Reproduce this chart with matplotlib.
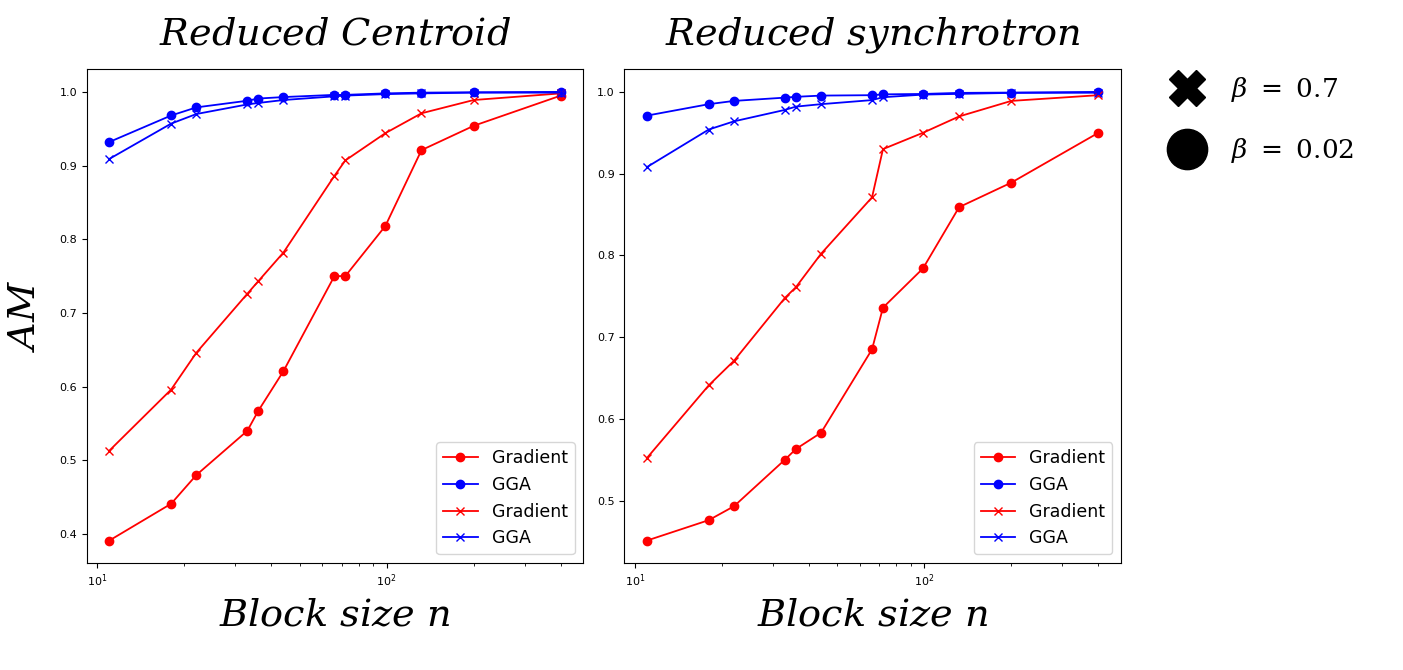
import numpy as np
import matplotlib
matplotlib.use('Agg')
import matplotlib.pyplot as plt
from matplotlib.lines import Line2D

# block sizes (shared by both panels)
block_n = [11, 18, 22, 33, 36, 44, 66, 72, 99, 132, 200, 400]

# Reduced Centroid
cen_grad_002 = [0.391, 0.441, 0.480, 0.540, 0.567, 0.621, 0.750, 0.750, 0.818, 0.921, 0.954, 0.995]
cen_gga_002 = [0.932, 0.968, 0.979, 0.988, 0.991, 0.993, 0.996, 0.996, 0.998, 0.999, 0.9995, 1.0]
cen_grad_07 = [0.513, 0.596, 0.646, 0.726, 0.743, 0.782, 0.886, 0.907, 0.944, 0.971, 0.989, 0.998]
cen_gga_07 = [0.909, 0.957, 0.970, 0.983, 0.985, 0.989, 0.994, 0.995, 0.997, 0.998, 0.999, 0.999]

# Reduced synchrotron
syn_grad_002 = [0.451, 0.476, 0.493, 0.550, 0.563, 0.583, 0.685, 0.736, 0.784, 0.859, 0.889, 0.950]
syn_gga_002 = [0.971, 0.985, 0.989, 0.993, 0.994, 0.9955, 0.996, 0.997, 0.9975, 0.9988, 0.9992, 1.0]
syn_grad_07 = [0.552, 0.641, 0.671, 0.748, 0.761, 0.802, 0.871, 0.930, 0.950, 0.970, 0.989, 0.996]
syn_gga_07 = [0.908, 0.954, 0.964, 0.978, 0.982, 0.985, 0.990, 0.9935, 0.9967, 0.9976, 0.9988, 0.999]

titles = ['Reduced\\ Centroid', 'Reduced\\ synchrotron']
mfont = 'dejavuserif'

fig = plt.figure(figsize=(14.03, 6.70), dpi=100)
ax1 = fig.add_axes([0.0618, 0.1597, 0.354, 0.7366])
ax2 = fig.add_axes([0.445, 0.1597, 0.354, 0.7366])

panels = [
    (ax1, cen_grad_002, cen_gga_002, cen_grad_07, cen_gga_07),
    (ax2, syn_grad_002, syn_gga_002, syn_grad_07, syn_gga_07),
]

for i, (ax, g2, a2, g7, a7) in enumerate(panels):
    ax.plot(block_n, g2, color='red', marker='o', lw=1.3, ms=6, label='Gradient')
    ax.plot(block_n, a2, color='blue', marker='o', lw=1.3, ms=6, label='GGA')
    ax.plot(block_n, g7, color='red', marker='x', lw=1.3, ms=6, label='Gradient')
    ax.plot(block_n, a7, color='blue', marker='x', lw=1.3, ms=6, label='GGA')
    ax.set_xscale('log')
    ax.tick_params(labelsize=8)
    ax.legend(loc='lower right', fontsize=12.5, labelspacing=0.5)
    ax.set_title('$' + titles[i] + '$', fontsize=27.5, math_fontfamily=mfont, pad=18)
    ax.set_xlabel('$Block\\ size\\ n$', fontsize=27.5, math_fontfamily=mfont, labelpad=6)

ax1.set_ylabel('$AM$', fontsize=27.5, math_fontfamily=mfont, labelpad=12)

# marker key for beta
handles = [
    Line2D([], [], color='black', marker='X', ls='', ms=26),
    Line2D([], [], color='black', marker='o', ls='', ms=29),
]
key = fig.legend(handles, [r'$\beta\ =\ 0.7$', r'$\beta\ =\ 0.02$'], loc='upper left',
                 bbox_to_anchor=(0.81, 0.923), frameon=False, fontsize=19,
                 handletextpad=0.7, labelspacing=1.2)
for t in key.get_texts():
    t.set_math_fontfamily(mfont)

plt.savefig('out.png', dpi=100)
